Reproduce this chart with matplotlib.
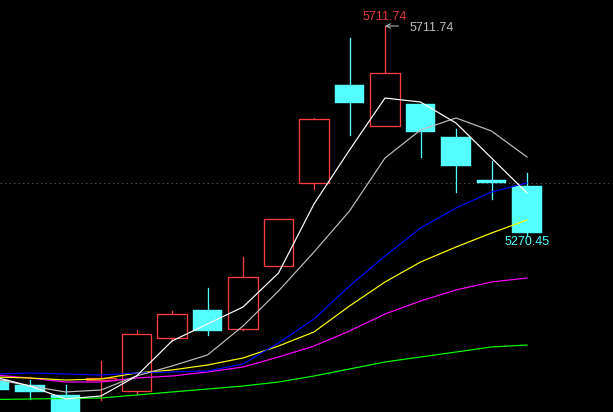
import numpy as np
import matplotlib
matplotlib.use("Agg")
import matplotlib.pyplot as plt
from matplotlib.patches import Rectangle

plt.rcParams['font.family'] = ['Liberation Sans', 'DejaVu Sans']

# K线数据 (开, 高, 低, 收)
days = np.arange(-1, 15)
opens = [4958.9, 4948.3, 4927.0, 4958.9, 4935.5, 5048.2, 5107.8, 5067.4,
         5201.3, 5377.8, 5586.3, 5499.1, 5545.9, 5475.7, 5384.2, 5371.5]
highs = [4965.3, 4958.9, 4948.3, 4999.3, 5065.2, 5105.6, 5154.5, 5220.5,
         5301.3, 5516.1, 5686.2, 5711.74, 5545.9, 5492.7, 5424.6, 5399.1]
lows = [4933.4, 4918.5, 4878.1, 4916.4, 4929.1, 5041.8, 5054.6, 5065.2,
        5201.3, 5365.1, 5479.9, 5499.1, 5433.1, 5358.7, 5343.8, 5266.0]
closes = [4937.6, 4933.4, 4884.5, 4963.1, 5056.7, 5099.3, 5063.1, 5177.9,
          5301.3, 5514.0, 5548.0, 5611.8, 5486.3, 5414.0, 5377.8, 5270.45]

# 均线
ma3 = [4965.3, 4946.1, 4918.5, 4924.9, 4967.4, 5041.8, 5078.0, 5114.1,
       5186.4, 5333.2, 5448.0, 5558.6, 5550.1, 5505.4, 5431.0, 5356.6]
ma5 = [4961.0, 4946.1, 4933.4, 4937.6, 4967.4, 4988.7, 5012.1, 5073.7,
       5148.2, 5231.1, 5318.3, 5431.0, 5490.6, 5516.1, 5488.4, 5433.1]
ma_blue = [4971.6, 4973.8, 4971.6, 4969.5, 4973.8, 4975.9, 4978.0, 4992.9,
           5037.6, 5088.6, 5158.8, 5222.6, 5282.1, 5324.7, 5358.7, 5377.8]
ma_yellow = [4965.3, 4963.1, 4958.9, 4961.0, 4973.8, 4980.2, 4990.8, 5005.7,
             5031.2, 5061.0, 5116.3, 5167.3, 5209.8, 5241.7, 5271.5, 5299.2]
ma_magenta = [4969.5, 4963.1, 4954.6, 4954.6, 4963.1, 4967.4, 4975.9, 4986.5,
              5007.8, 5031.2, 5063.1, 5099.2, 5126.9, 5150.3, 5167.3, 5175.8]
ma_green = [4917.4, 4918.5, 4919.5, 4920.6, 4927.0, 4933.4, 4939.7, 4946.1,
            4954.6, 4967.4, 4982.3, 4997.2, 5007.8, 5018.4, 5029.1, 5033.3]

up_color = '#ff3c3c'
down_color = '#54ffff'
body_w = 0.82
px = 0.72  # 1像素线宽

fig = plt.figure(figsize=(6.13, 4.12), dpi=100, facecolor='black')
ax = fig.add_axes([0, 0, 1, 1])
ax.set_facecolor('black')
ax.set_axis_off()

# 昨收虚线
ax.axhline(closes[-2], color='#4a4a4a', lw=px, ls=(0, (1.5, 3)), zorder=1)

for d, o, h, l, c in zip(days, opens, highs, lows, closes):
    if c >= o:
        ax.add_patch(Rectangle((d - body_w / 2, o), body_w, c - o, facecolor='black',
                               edgecolor=up_color, lw=px * 1.3, zorder=3))
        ax.plot([d, d], [c, h], color=up_color, lw=px * 1.3, zorder=3)
        ax.plot([d, d], [l, o], color=up_color, lw=px * 1.3, zorder=3)
    else:
        ax.plot([d, d], [l, h], color=down_color, lw=px * 1.3, zorder=3)
        ax.add_patch(Rectangle((d - body_w / 2, c), body_w, o - c, facecolor=down_color,
                               edgecolor=down_color, lw=0.3, zorder=3))

for vals, col in [(ma_green, '#00ff00'), (ma_magenta, '#ff00ff'), (ma_yellow, '#ffff00'),
                  (ma_blue, '#0000ff'), (ma5, '#bdbdbd'), (ma3, '#ffffff')]:
    ax.plot(days, vals, color=col, lw=px * 1.2, zorder=4)

# 最高价标注
hi_i = int(np.argmax(highs))
hi_d, hi_v = days[hi_i], highs[hi_i]
ax.annotate('%.2f' % hi_v, xy=(hi_d, hi_v), xytext=(0, 9), textcoords='offset pixels',
            ha='center', va='center', color='#e03c3c', fontsize=9)
ax.annotate('', xy=(hi_d, hi_v), xytext=(hi_d + 0.38, hi_v),
            arrowprops=dict(arrowstyle='->', color='#bdbdbd', lw=px,
                            shrinkA=0, shrinkB=0, mutation_scale=8))
ax.annotate('%.2f' % hi_v, xy=(hi_d, hi_v), xytext=(25, -2), textcoords='offset pixels',
            ha='left', va='center', color='#bdbdbd', fontsize=9)

# 收盘价标注
ax.annotate('%.2f' % closes[-1], xy=(days[-1], closes[-1]), xytext=(0, -9),
            textcoords='offset pixels', ha='center', va='center', color=down_color, fontsize=9)

ax.set_xlim(-30 / 35.5, 583 / 35.5)
ax.set_ylim(5767.03 - 2.1267 * 412, 5767.03)

fig.savefig('out.png', dpi=100, facecolor='black')
